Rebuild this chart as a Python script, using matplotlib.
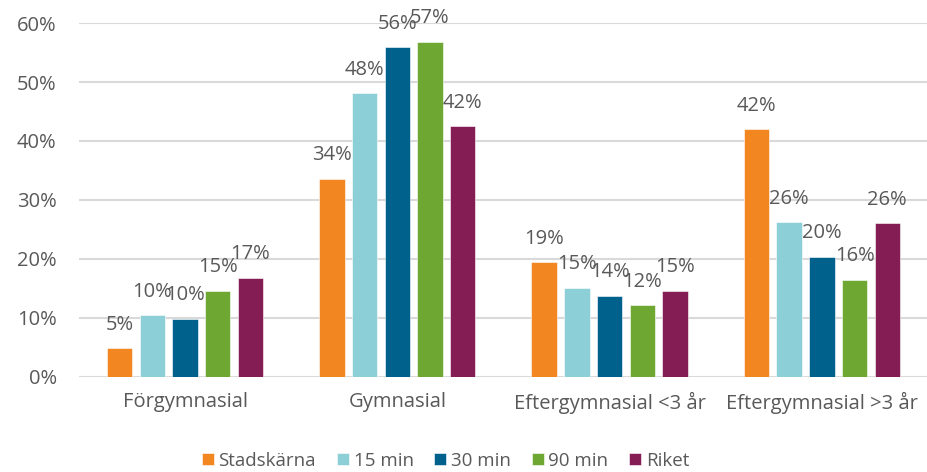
import numpy as np
import matplotlib
matplotlib.use('Agg')
import matplotlib.pyplot as plt

plt.rcParams['font.family'] = ['Open Sans', 'DejaVu Sans']

# ----------------------------- DATA --------------------------------------------------
categories = ['Förgymnasial', 'Gymnasial', 'Eftergymnasial <3 år', 'Eftergymnasial >3 år']
series_names = ['Stadskärna', '15 min', '30 min', '90 min', 'Riket']
stadskarna = [4.8, 33.6, 19.4, 42.0]
min_15 = [10.4, 48.1, 15.1, 26.2]
min_30 = [9.8, 55.9, 13.7, 20.3]
min_90 = [14.6, 56.8, 12.1, 16.4]
riket = [16.8, 42.5, 14.6, 26.0]
colors = ['#F28722', '#8DCFD6', '#00628C', '#6EA832', '#841D54']

text_color = '#595959'
grid_color = '#D9D9D9'

# ----------------------------- PLOT --------------------------------------------------
fig = plt.figure(figsize=(9.28, 4.72), dpi=100)
ax = fig.add_axes([0.085, 0.202, 0.915, 0.749])

x = np.arange(len(categories))
pitch = 0.154
width = 0.12
all_series = [stadskarna, min_15, min_30, min_90, riket]

for i, (name, vals, col) in enumerate(zip(series_names, all_series, colors)):
    pos = x + (i - 2) * pitch
    vals = np.array(vals) / 100
    ax.bar(pos, vals, width, color=col, label=name, edgecolor='white', linewidth=0.4, zorder=3)
    for px, v in zip(pos, vals):
        ax.annotate('%d%%' % round(v * 100), (px, v), xytext=(0, 17), textcoords='offset points',
                    ha='center', va='center', fontsize=14.5, color=text_color, zorder=4)

ax.set_xlim(-0.5, len(categories) - 0.5)
ax.set_ylim(0, 0.6)
ax.set_yticks(np.arange(0, 0.61, 0.1))
ax.set_yticklabels(['%d%%' % t for t in range(0, 61, 10)])
ax.set_xticks(x)
ax.set_xticklabels(categories)
ax.tick_params(axis='y', length=0, pad=16, labelsize=14.5, labelcolor=text_color)
ax.tick_params(axis='x', length=0, pad=11, labelsize=14.5, labelcolor=text_color)
ax.grid(axis='y', color=grid_color, linewidth=1.5, zorder=0)
for s in ax.spines.values():
    s.set_visible(False)

fig.legend(loc='center', bbox_to_anchor=(0.48, 0.024), ncol=5, frameon=False,
           fontsize=13.5, labelcolor=text_color, handlelength=0.65, handleheight=0.65,
           handletextpad=0.25, columnspacing=1.1)

fig.savefig('out.png', dpi=100)
